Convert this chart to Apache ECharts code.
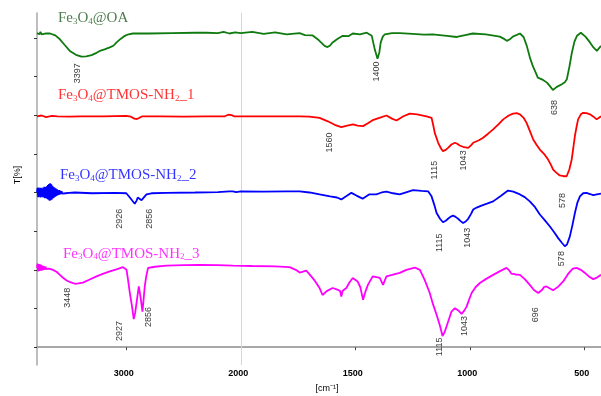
<!DOCTYPE html>
<html><head><meta charset="utf-8">
<script src="https://cdn.jsdelivr.net/npm/echarts@6/dist/echarts.min.js"></script>
<style>html,body{margin:0;padding:0;background:#fff}#c{width:601px;height:396px}</style>
</head><body><div id="c"></div>
<script>
// ---------- data (wavenumber cm-1, transmittance in offset T units) ----------
const oaWn = [3780,3770,3760,3750,3740,3730,3720,3700,3667,3620,3580,3540,3493,3440,3391,3350,3303,3260,3231,3190,3144,3110,3085,3050,3013,2980,2943,2800,2600,2400,2300,2200,2150,2100,2050,2000,1950,1900,1850,1800,1743,1720,1686,1660,1634,1621,1610,1599,1580,1555,1530,1511,1480,1450,1428,1415,1403,1395,1389,1380,1371,1340,1306,1250,1200,1162,1100,1057,1020,987,930,869,850,838,825,812,781,765,751,738,725,712,703,680,663,650,637,620,598,585,576,565,554,543,532,515,495,475,460,445,427];
const oaT  = [81.2,81.6,80.9,81.5,80.9,81.4,81.0,81.1,81.1,80.6,79.6,78.2,76.6,75.6,75.1,75.2,75.5,76.1,76.6,77.0,77.5,78.0,78.8,79.7,80.5,80.9,81.1,81.1,81.2,81.3,81.3,81.2,81.5,81.1,81.4,81.2,81.5,81.0,81.4,80.9,81.2,80.7,80.6,79.4,77.9,77.6,78.0,78.8,79.6,80.5,80.4,81.1,80.9,81.3,80.5,77.0,74.6,76.2,78.8,80.3,80.9,81.2,81.2,81.0,80.8,80.9,80.5,80.2,80.7,81.1,80.9,80.3,79.7,79.2,79.6,80.3,81.1,80.2,77.9,75.0,72.7,71.0,69.7,69.1,68.4,67.5,66.5,67.3,68.0,68.5,69.3,72.5,76.2,79.0,80.5,81.3,80.3,78.8,77.5,76.6,77.9];

const n1Wn = [3780,3740,3700,3650,3600,3500,3400,3200,3000,2960,2930,2908,2885,2860,2700,2500,2300,2140,2110,2098,2080,2060,1900,1800,1743,1700,1656,1620,1590,1561,1540,1510,1490,1466,1445,1424,1395,1364,1340,1320,1290,1262,1230,1189,1167,1160,1153,1138,1125,1117,1105,1095,1080,1065,1055,1044,1025,1007,995,985,960,942,920,898,875,854,830,811,795,781,765,752,737,723,708,694,676,658,646,636,620,607,590,577,565,555,548,541,533,527,515,505,490,475,460,446,427];
const n1T  = [59.7,59.9,59.5,59.8,59.7,59.6,59.7,59.7,59.8,59.6,59.1,59.0,59.3,59.7,59.7,59.6,59.7,59.7,60.1,60.1,60.0,59.7,59.7,59.7,59.7,59.6,59.3,58.4,57.5,56.9,57.2,57.6,57.3,57.15,57.9,58.7,59.3,59.9,59.1,58.6,59.7,60.4,60.2,59.7,59.3,57.5,55.4,52.85,51.3,50.7,51.0,51.55,52.4,52.85,52.6,52.15,51.7,51.55,52.2,52.85,53.5,54.15,55.2,56.3,57.6,58.9,59.9,60.4,60.5,60.2,59.3,58.0,55.8,53.7,52.3,51.1,50.0,48.5,47.2,45.9,45.0,44.4,44.2,44.2,46.0,48.5,51.5,54.6,57.2,58.9,60.2,60.6,60.5,60.2,59.6,58.9,59.7];

const n2Wn = [3780,3775,3770,3765,3760,3755,3750,3745,3740,3735,3730,3725,3720,3715,3710,3705,3700,3695,3690,3685,3680,3675,3670,3665,3660,3655,3650,3645,3640,3635,3630,3625,3620,3615,3610,3605,3600,3595,3590,3585,3580,3575,3570,3565,3560,3550,3530,3500,3450,3300,3100,3000,2969,2945,2926,2910,2900,2885,2867,2850,2824,2780,2650,2400,2200,2100,2071,2040,2000,1900,1800,1743,1700,1656,1610,1580,1561,1540,1517,1495,1468,1440,1408,1385,1364,1335,1306,1275,1248,1210,1182,1167,1155,1145,1130,1117,1105,1095,1085,1073,1062,1051,1040,1029,1018,1007,995,985,970,949,925,898,865,833,810,781,760,738,715,694,672,650,630,614,598,585,575,563,552,541,530,519,505,490,475,461,445,427];
const n2T  = [40.0,41.2,38.8,41.3,38.9,41.1,38.7,41.2,38.9,41.0,38.8,41.3,38.7,41.5,38.5,41.4,38.6,41.6,38.3,41.9,38.1,42.2,37.9,42.4,38.0,42.1,38.2,41.7,38.5,41.4,38.7,41.2,38.9,41.0,39.1,40.8,39.3,40.6,39.4,40.6,39.5,40.4,39.6,40.3,39.7,40.2,39.8,39.9,40.0,39.8,39.9,39.8,38.7,37.8,37.1,37.9,38.7,38.4,38.0,38.6,39.5,39.8,39.9,40.0,40.1,40.3,40.3,40.1,40.3,40.2,40.3,40.3,40.0,39.5,39.0,38.7,38.2,39.0,39.9,39.2,38.4,39.5,39.5,40.0,40.2,39.8,39.5,40.1,40.6,40.4,40.3,39.0,36.8,34.7,33.2,32.3,32.7,33.2,33.7,34.0,33.7,33.2,32.6,32.1,32.5,33.2,34.4,35.6,36.1,36.6,37.1,37.7,39.1,40.5,40.2,39.5,38.8,37.7,36.2,34.3,32.8,31.2,29.6,28.2,27.0,26.1,26.6,28.65,31.5,34.7,37.4,39.0,39.8,39.9,39.6,39.3,39.5,39.7];

const n3Wn = [3780,3775,3770,3765,3760,3755,3750,3745,3740,3735,3730,3725,3720,3715,3710,3705,3700,3690,3680,3670,3660,3641,3610,3580,3550,3521,3490,3449,3420,3379,3320,3260,3200,3144,3080,3030,2998,2985,2969,2950,2935,2922,2911,2900,2891,2875,2859,2850,2839,2825,2810,2750,2650,2500,2359,2200,2071,1950,1850,1787,1760,1743,1714,1695,1677,1656,1643,1625,1599,1575,1566,1561,1555,1539,1525,1511,1490,1478,1466,1455,1445,1424,1393,1379,1364,1306,1277,1240,1218,1197,1175,1160,1145,1130,1119,1110,1102,1090,1080,1065,1050,1036,1025,1014,1003,992,975,956,930,898,870,840,830,818,800,781,760,738,720,701,685,675,665,650,636,615,592,570,550,534,515,497,480,461,445,427];
const n3T  = [20.5,21.6,19.6,21.5,19.7,21.4,19.8,21.3,19.8,21.1,19.9,21.0,20.0,20.9,20.1,20.8,20.2,20.7,20.3,20.5,20.2,20.0,19.5,18.7,17.9,17.25,16.8,16.4,16.5,16.7,17.5,18.3,19.0,19.6,20.2,20.7,20.0,17.5,14.0,10.5,7.25,9.0,11.4,13.8,15.7,12.8,9.2,12.0,15.7,18.5,20.5,20.8,21.1,21.2,21.3,21.2,21.1,21.0,20.9,20.7,20.0,19.3,19.8,18.5,17.2,15.3,13.5,14.5,15.3,14.8,14.5,13.1,14.6,15.3,16.8,17.9,17.0,15.5,12.25,14.5,16.1,18.3,17.9,16.1,18.3,19.2,20.0,20.6,20.0,17.4,14.0,11.0,8.4,5.5,2.9,3.9,5.3,7.4,9.2,10.1,9.5,8.6,9.4,10.5,12.3,14.0,15.5,16.6,17.6,18.7,19.6,20.5,20.0,19.0,18.8,18.7,17.6,16.1,14.8,14.0,14.8,15.6,15.7,15.2,14.7,15.6,17.0,19.0,20.3,20.5,20.0,19.2,18.3,17.6,18.0,18.7];

// peak annotations: text, position (wavenumber, T)
const oaPkText = ['3397','1400','638'];
const oaPkWn   = [3425,1408,628];
const oaPkT    = [70.8,71.3,62.0];
const n1PkText = ['1560','1115','1043','578'];
const n1PkWn   = [1612,1153,1026,594];
const n1PkT    = [52.9,45.8,48.3,37.9];
const n2PkText = ['2926','2856','1115','1043','578'];
const n2PkWn   = [3057,2795,1131,1009,598];
const n2PkT    = [33.2,33.2,27.0,28.3,22.9];
const n3PkText = ['3448','2927','2856','1115','1043','696'];
const n3PkWn   = [3510,3057,2804,1131,1022,712];
const n3PkT    = [12.8,4.2,7.8,0.1,5.5,8.4];

// sample names and where they sit
const sampleNames = [
  ['Fe','3','O','4','@OA'],
  ['Fe','3','O','4','@TMOS-NH','2','_1'],
  ['Fe','3','O','4','@TMOS-NH','2','_2'],
  ['Fe','3','O','4','@TMOS-NH','2','_3']
];
const nameWn = [3597,3597,3580,3553];
const nameT  = [85.0,65.1,44.4,24.2];

const xTicks = [500,1000,1500,2000,3000];
const yTicks = [0,10,20,30,40,50,60,70,80];

// ---------- split wavenumber scale (2x expansion below 2000 cm-1) ----------
const tx = w => w <= 2000 ? w : 2000 + (w - 2000) / 2;
const itx = t => t <= 2000 ? t : 2000 + (t - 2000) * 2;

const colors = ['#0f7a0f','#ff0000','#0000ff','#ff00ff'];
const nameColors = ['#1f5a1f','#ff0000','#0000ff','#ff00ff'];
const traces = [[oaWn,oaT],[n1Wn,n1T],[n2Wn,n2T],[n3Wn,n3T]];
const peaks = [[oaPkText,oaPkWn,oaPkT],[n1PkText,n1PkWn,n1PkT],[n2PkText,n2PkWn,n2PkT],[n3PkText,n3PkWn,n3PkT]];

const series = [];
traces.forEach((tr, k) => {
  const s = {
    type: 'line', showSymbol: false, symbol: 'none', animation: false, silent: true,
    data: tr[0].map((w, i) => [tx(w), tr[1][i]]),
    lineStyle: { color: colors[k], width: 1.8 }, z: 3
  };
  if (k === 0) {
    s.markLine = { silent: true, symbol: ['none','none'], label: { show: false },
      lineStyle: { color: '#d6d6d6', width: 1, type: 'solid' }, data: [{ xAxis: tx(2000) }], z: 1 };
  }
  series.push(s);
});
peaks.forEach((p) => {
  series.push({
    type: 'scatter', symbolSize: 0, animation: false, silent: true,
    data: p[1].map((w, i) => ({ value: [tx(w), p[2][i]], name: p[0][i] })),
    label: { show: true, position: 'inside', rotate: 90, formatter: d => d.name,
      fontFamily: 'Liberation Sans, Arial, sans-serif', fontSize: 9, color: '#000' }
  });
});
const richFor = (c) => ({
  n: { fontFamily: 'Liberation Serif, Times New Roman, serif', fontSize: 15, lineHeight: 15, color: c, verticalAlign: 'bottom' },
  s: { fontFamily: 'Liberation Serif, Times New Roman, serif', fontSize: 9, lineHeight: 6, color: c, verticalAlign: 'bottom' }
});
sampleNames.forEach((parts, k) => {
  const txt = parts.map((p, i) => (/^\d$/.test(p) ? '{s|' + p + '}' : '{n|' + p + '}')).join('');
  series.push({
    type: 'scatter', symbolSize: 0, animation: false, silent: true,
    data: [{ value: [tx(nameWn[k]), nameT[k]] }],
    label: { show: true, position: 'right', distance: 0, formatter: txt, rich: richFor(nameColors[k]) }
  });
});

const chart = echarts.init(document.getElementById('c'), null, { renderer: 'canvas' });
chart.setOption({
  animation: false,
  backgroundColor: '#fff',
  grid: { left: 37, right: 0, top: 13, bottom: 31, containLabel: false },
  xAxis: {
    type: 'value', inverse: true, min: tx(427), max: tx(3780),
    axisLine: { lineStyle: { color: '#a8a8a8', width: 2 } },
    axisTick: { show: true, customValues: xTicks.map(tx), length: 3, lineStyle: { color: '#444' } },
    axisLabel: { customValues: xTicks.map(tx), formatter: v => String(Math.round(itx(v))),
      fontFamily: 'Liberation Sans, Arial, sans-serif', fontSize: 9, fontWeight: 'bold', color: '#000', margin: 4,
      padding: [0, 5, 0, 0] },
    splitLine: { show: false }
  },
  yAxis: {
    type: 'value', min: -4.6, max: 86.4,
    axisLine: { show: true, lineStyle: { color: '#a8a8a8', width: 1.5 } },
    axisTick: { show: true, customValues: yTicks, length: 3, lineStyle: { color: '#333' } },
    axisLabel: { show: false },
    splitLine: { show: false }
  },
  graphic: [
    { type: 'text', x: 18, y: 175, rotation: Math.PI / 2, style: { text: 'T[%]', align: 'center', verticalAlign: 'middle',
      font: '9px Liberation Sans, Arial, sans-serif', fill: '#000' } },
    { type: 'text', x: 327, y: 389, style: { text: '[cm\u207B\u00B9]', align: 'center', verticalAlign: 'middle',
      font: '9px Liberation Sans, Arial, sans-serif', fill: '#000' } }
  ],
  series: series
});
</script></body></html>
